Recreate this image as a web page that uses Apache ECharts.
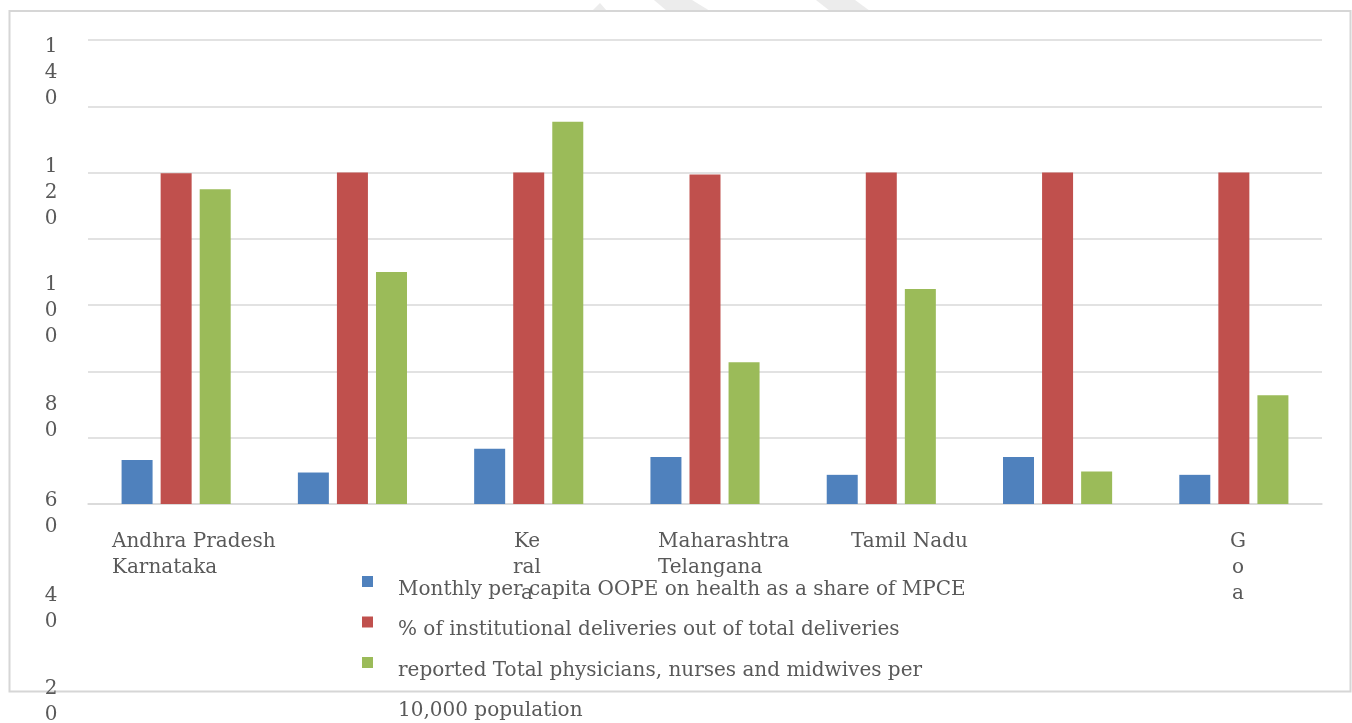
<!DOCTYPE html>
<html>
<head>
<meta charset="utf-8">
<title>Health indicators by state</title>
<script src="https://cdn.jsdelivr.net/npm/echarts@6/dist/echarts.min.js"></script>
<style>
  html, body { margin: 0; padding: 0; background: #ffffff; }
  #chart { width: 1352px; height: 723px; }
</style>
</head>
<body>
<div id="chart"></div>
<script>
// States along the category axis
const states = ['Andhra Pradesh', 'Karnataka', 'Kerala', 'Maharashtra', 'Telangana', 'Tamil Nadu', 'Goa'];

// Series names
const seriesNames = [
  'Monthly per capita OOPE on health as a share of MPCE',
  '% of institutional deliveries out of total deliveries',
  'reported Total physicians, nurses and midwives per 10,000 population'
];

// Values per state
const oopeShare = [13.3, 9.5, 16.7, 14.2, 8.8, 14.2, 8.8];
const institutionalDeliveries = [99.8, 100, 100, 99.4, 100, 100, 100];
const healthWorkers = [95.0, 70.0, 115.3, 42.8, 64.9, 9.8, 32.8];

// Value axis tick labels (printed wrapped, one character per line)
const tickLabels = ['140', '120', '100', '80', '60', '40', '20'];

// Category labels as they are printed under the axis (wrapped text)
const categoryLabelText = [
  states[0] + '\n' + states[1],
  states[2].slice(0, 2) + '\n' + states[2].slice(2, 5) + '\n' + states[2].slice(5),
  states[3] + '\n' + states[4],
  states[5],
  states[6].split('').join('\n')
];

const colors = ['#4F81BD', '#C0504D', '#9BBB59'];
const textColor = '#595959';
const font = '"DejaVu Serif", "Liberation Serif", serif';
const fontSize = 20;

const chart = echarts.init(document.getElementById('chart'), null, { renderer: 'canvas' });

// Layout of the wrapped value-axis labels: first-line centre of each block
const tickLabelTops = [47, 167, 285, 405, 501, 596, 689];
const tickGraphics = tickLabels.map((t, i) => ({
  type: 'text',
  x: 51,
  y: tickLabelTops[i] - 13,
  z: 10,
  style: {
    text: t.split('').join('\n'),
    font: fontSize + 'px ' + font,
    fill: textColor,
    lineHeight: 26,
    align: 'center',
    verticalAlign: 'top'
  }
}));

// Layout of the wrapped category labels
const catLayout = [
  { x: 112, align: 'left' },
  { x: 527, align: 'center' },
  { x: 658, align: 'left' },
  { x: 851, align: 'left' },
  { x: 1238, align: 'center' }
];
const catGraphics = categoryLabelText.map((t, i) => ({
  type: 'text',
  x: catLayout[i].x,
  y: 542 - 13,
  z: 10,
  style: {
    text: t,
    font: fontSize + 'px ' + font,
    fill: textColor,
    lineHeight: 26,
    align: catLayout[i].align,
    verticalAlign: 'top'
  }
}));

// Split of the long legend entry into its two printed lines
const splitAt = seriesNames[2].indexOf(' 10,000');
const legendFirstLine = seriesNames[2].slice(0, splitAt);
const legendSecondLine = seriesNames[2].slice(splitAt + 1);

const option = {
  backgroundColor: '#ffffff',
  animation: false,
  grid: { left: 88, right: 30, top: 40, bottom: 219, containLabel: false },
  xAxis: {
    type: 'category',
    data: states,
    axisLine: { show: true, lineStyle: { color: '#d9d9d9', width: 1.5 } },
    axisTick: { show: false },
    axisLabel: { show: false },
    splitLine: { show: false }
  },
  yAxis: {
    type: 'value',
    min: 0,
    max: 140,
    interval: 20,
    axisLine: { show: false },
    axisTick: { show: false },
    axisLabel: { show: false },
    splitLine: { show: true, lineStyle: { color: '#d9d9d9', width: 1.5 } }
  },
  legend: {
    orient: 'vertical',
    left: 362,
    top: 563.5,
    padding: 0,
    icon: 'rect',
    itemWidth: 11,
    itemHeight: 11,
    itemGap: 4.5,
    data: seriesNames,
    formatter: (name) => '{t|' + (name === seriesNames[2] ? legendFirstLine : name) + '}',
    textStyle: {
      fontFamily: font,
      fontSize: fontSize,
      color: textColor,
      rich: {
        t: {
          fontFamily: font,
          fontSize: fontSize,
          color: textColor,
          lineHeight: 20,
          padding: [16, 0, 0, 20]
        }
      }
    }
  },
  series: [
    { name: seriesNames[0], type: 'bar', data: oopeShare, itemStyle: { color: colors[0] }, barWidth: 31, barGap: '26%' },
    { name: seriesNames[1], type: 'bar', data: institutionalDeliveries, itemStyle: { color: colors[1] }, barWidth: 31, barGap: '26%' },
    { name: seriesNames[2], type: 'bar', data: healthWorkers, itemStyle: { color: colors[2] }, barWidth: 31, barGap: '26%' }
  ],
  graphic: [
    // faint shapes above the frame
    { type: 'polygon', z: -1, shape: { points: [[592, 11], [600, 3], [607, 11]] }, style: { fill: '#ececec' } },
    { type: 'polygon', z: -1, shape: { points: [[654, 0], [692, 0], [710, 11], [667, 11]] }, style: { fill: '#ececec' } },
    { type: 'polygon', z: -1, shape: { points: [[816, 0], [855, 0], [870, 11], [830, 11]] }, style: { fill: '#ececec' } },
    // chart frame
    {
      type: 'rect',
      z: -1,
      shape: { x: 9.5, y: 11, width: 1341, height: 680.5 },
      style: { fill: 'transparent', stroke: '#d6d6d6', lineWidth: 2 }
    },
    {
      type: 'text',
      x: 398,
      y: 711,
      z: 10,
      style: {
        text: legendSecondLine,
        font: fontSize + 'px ' + font,
        fill: textColor,
        align: 'left',
        verticalAlign: 'middle'
      }
    }
  ].concat(tickGraphics, catGraphics)
};

chart.setOption(option);
</script>
</body>
</html>
